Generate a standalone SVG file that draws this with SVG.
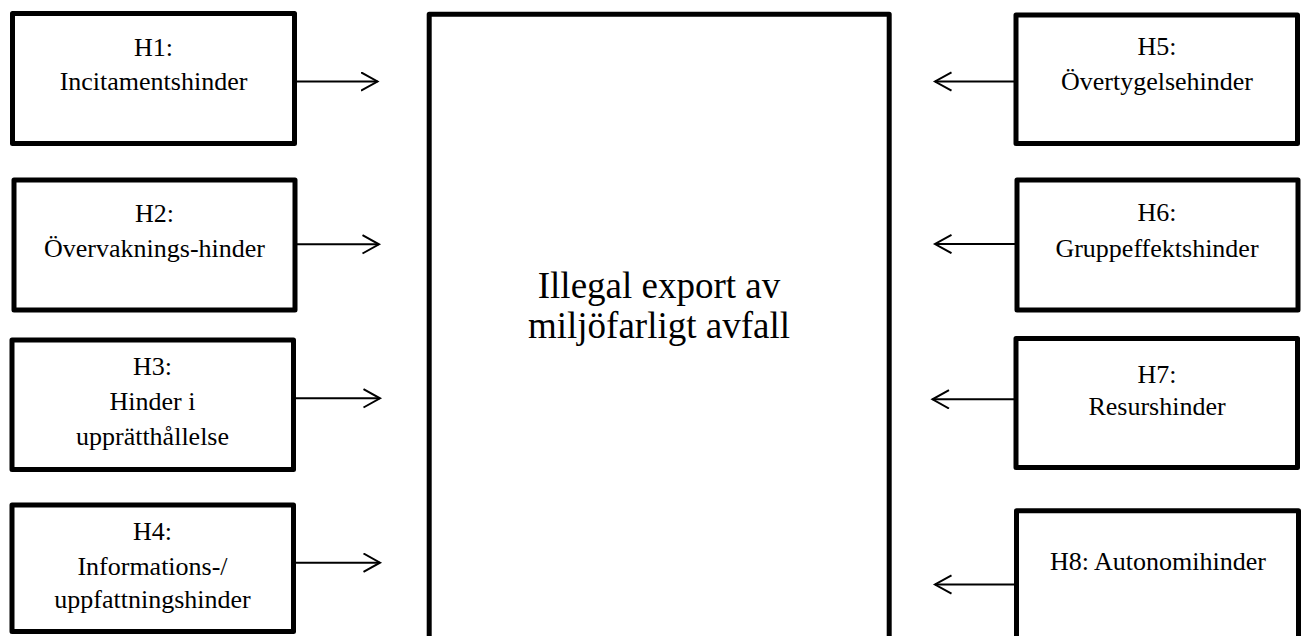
<svg xmlns="http://www.w3.org/2000/svg" width="1304" height="636" viewBox="0 0 1304 636">
<style>
.box{fill:#fff;stroke:#000;stroke-width:5;stroke-linejoin:round}
.t{font-family:"Liberation Serif","Times New Roman",serif;font-size:26px;fill:#000;text-anchor:middle}
.big{font-family:"Liberation Serif","Times New Roman",serif;font-size:37px;fill:#000;text-anchor:middle}
.c{stroke:#000;stroke-width:2;fill:none}
</style>
<defs>
<marker id="ah" markerUnits="userSpaceOnUse" markerWidth="20" markerHeight="22" refX="17" refY="10" orient="auto" viewBox="0 0 20 22">
<path d="M0.5,0.8 L17,10 L0.5,19.2" fill="none" stroke="#000" stroke-width="2"/>
</marker>
</defs>
<rect width="1304" height="636" fill="#fff"/>
<g id="center">
<rect class="box" x="429.2" y="14.2" width="460" height="640"/>
<text class="big" x="659" y="298">Illegal export av</text>
<text class="big" x="659" y="338">miljöfarligt avfall</text>
</g>
<g id="H1">
<rect class="box" x="12.5" y="13.5" width="282" height="130"/>
<text class="t" x="153.5" y="56">H1:</text>
<text class="t" x="153.5" y="90">Incitamentshinder</text>
</g>
<g id="H2">
<rect class="box" x="14" y="180" width="281" height="130"/>
<text class="t" x="154.5" y="221.5">H2:</text>
<text class="t" x="154.5" y="256.5">Övervaknings-hinder</text>
</g>
<g id="H3">
<rect class="box" x="12" y="340" width="281.5" height="129.5"/>
<text class="t" x="152.5" y="375">H3:</text>
<text class="t" x="152.5" y="410">Hinder i</text>
<text class="t" x="152.5" y="445">upprätthållelse</text>
</g>
<g id="H4">
<rect class="box" x="12" y="505" width="281.5" height="126.5"/>
<text class="t" x="152.5" y="540">H4:</text>
<text class="t" x="152.5" y="575">Informations-/</text>
<text class="t" x="152.5" y="608">uppfattningshinder</text>
</g>
<g id="H5">
<rect class="box" x="1016" y="15" width="281.5" height="128.5"/>
<text class="t" x="1157" y="55">H5:</text>
<text class="t" x="1157" y="90">Övertygelsehinder</text>
</g>
<g id="H6">
<rect class="box" x="1017" y="180" width="281" height="130"/>
<text class="t" x="1157" y="220.5">H6:</text>
<text class="t" x="1157" y="256.5">Gruppeffektshinder</text>
</g>
<g id="H7">
<rect class="box" x="1016" y="338.5" width="281.5" height="129"/>
<text class="t" x="1157" y="383">H7:</text>
<text class="t" x="1157" y="415">Resurshinder</text>
</g>
<g id="H8">
<rect class="box" x="1016.5" y="510.8" width="282" height="160"/>
<text class="t" x="1158" y="570">H8: Autonomihinder</text>
</g>
<g id="connectors">
<line class="c" x1="296" y1="81.5" x2="377.5" y2="81.5" marker-end="url(#ah)"/>
<line class="c" x1="297" y1="244.3" x2="379" y2="244.3" marker-end="url(#ah)"/>
<line class="c" x1="295" y1="398.3" x2="380" y2="398.3" marker-end="url(#ah)"/>
<line class="c" x1="295" y1="562.7" x2="380" y2="562.7" marker-end="url(#ah)"/>
<line class="c" x1="1014" y1="81.5" x2="935" y2="81.5" marker-end="url(#ah)"/>
<line class="c" x1="1015" y1="244" x2="935" y2="244" marker-end="url(#ah)"/>
<line class="c" x1="1014" y1="399.3" x2="932.5" y2="399.3" marker-end="url(#ah)"/>
<line class="c" x1="1014" y1="584.5" x2="935" y2="584.5" marker-end="url(#ah)"/>
</g>
</svg>
